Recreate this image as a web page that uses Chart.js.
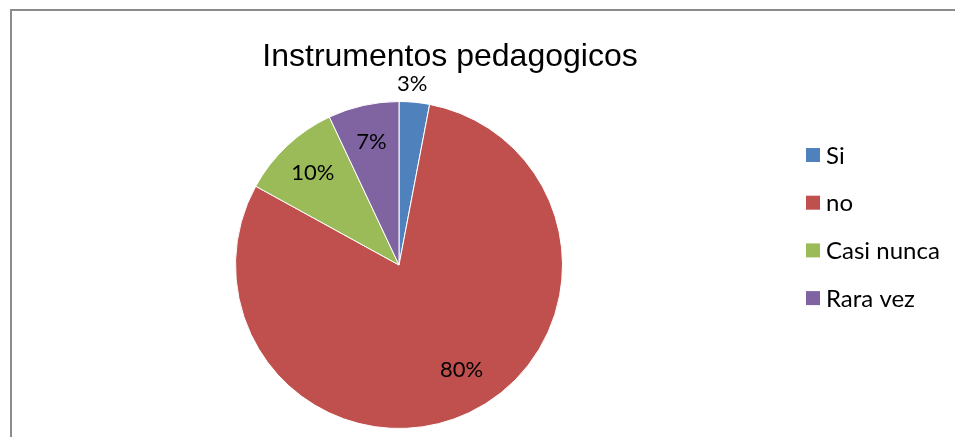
<!DOCTYPE html>
<html lang="es">
<head>
<meta charset="UTF-8">
<title>Instrumentos pedagogicos</title>
<script src="https://cdn.jsdelivr.net/npm/chart.js@4.4.1/dist/chart.umd.min.js"></script>
<style>
  html, body { margin: 0; padding: 0; background: #fff; }
  #wrap { position: relative; width: 955px; height: 437px; }
</style>
</head>
<body>
<div id="wrap">
  <canvas id="chart" width="955" height="437"></canvas>
</div>
<script>
  // data
  var chartTitle = 'Instrumentos pedagogicos';
  var labels = ['Si', 'no', 'Casi nunca', 'Rara vez'];
  var values = [3, 80, 10, 7];
  var colors = ['#4F81BD', '#C0504D', '#9BBB59', '#8064A2'];

  // frame, title, legend and % labels drawn by hand to match the original layout
  var decor = {
    id: 'decor',
    beforeDraw: function(chart) {
      var ctx = chart.ctx;
      ctx.save();
      ctx.strokeStyle = '#8c8c8c';
      ctx.lineWidth = 2;
      ctx.strokeRect(11, 10, 960, 440);
      ctx.restore();
    },
    afterDraw: function(chart) {
      var ctx = chart.ctx;
      ctx.save();
      ctx.fillStyle = '#000';
      ctx.textAlign = 'center';
      ctx.textBaseline = 'middle';
      ctx.font = '32px "Liberation Sans", Arial, sans-serif';
      ctx.fillText(chartTitle, 450, 57);

      // slice labels (small slices outside, big slice label pulled a bit off-centre like Excel)
      ctx.font = '22px Lato, "Open Sans", sans-serif';
      var total = values.reduce(function(a, b) { return a + b; }, 0);
      var arcs = chart.getDatasetMeta(0).data;
      arcs.forEach(function(arc, i) {
        var mid = (arc.startAngle + arc.endAngle) / 2;
        var pct = values[i] / total;
        var k = 0.77;
        if (pct < 0.05) k = 1.11;
        if (pct > 0.5) { k = 0.745; mid -= 0.1; }
        var x = arc.x + Math.cos(mid) * arc.outerRadius * k - (pct < 0.05 ? 4 : 0);
        var y = arc.y + Math.sin(mid) * arc.outerRadius * k;
        ctx.fillText(Math.round(pct * 100) + '%', x, y);
      });

      // legend
      ctx.font = '24px Lato, "Open Sans", sans-serif';
      ctx.textAlign = 'left';
      labels.forEach(function(lab, i) {
        var cy = 155 + i * 47.7;
        ctx.fillStyle = colors[i];
        ctx.fillRect(806, cy - 7, 14, 14);
        ctx.fillStyle = '#000';
        ctx.fillText(lab, 826, cy + 1);
      });
      ctx.restore();
    }
  };

  new Chart(document.getElementById('chart'), {
    type: 'pie',
    data: {
      labels: labels,
      datasets: [{
        data: values,
        backgroundColor: colors,
        borderColor: '#ffffff',
        borderWidth: 1
      }]
    },
    options: {
      responsive: false,
      animation: false,
      layout: { padding: { left: 235, right: 392, top: 101, bottom: 8 } },
      plugins: {
        legend: { display: false },
        title: { display: false },
        tooltip: { enabled: false }
      }
    },
    plugins: [decor]
  });
</script>
</body>
</html>
